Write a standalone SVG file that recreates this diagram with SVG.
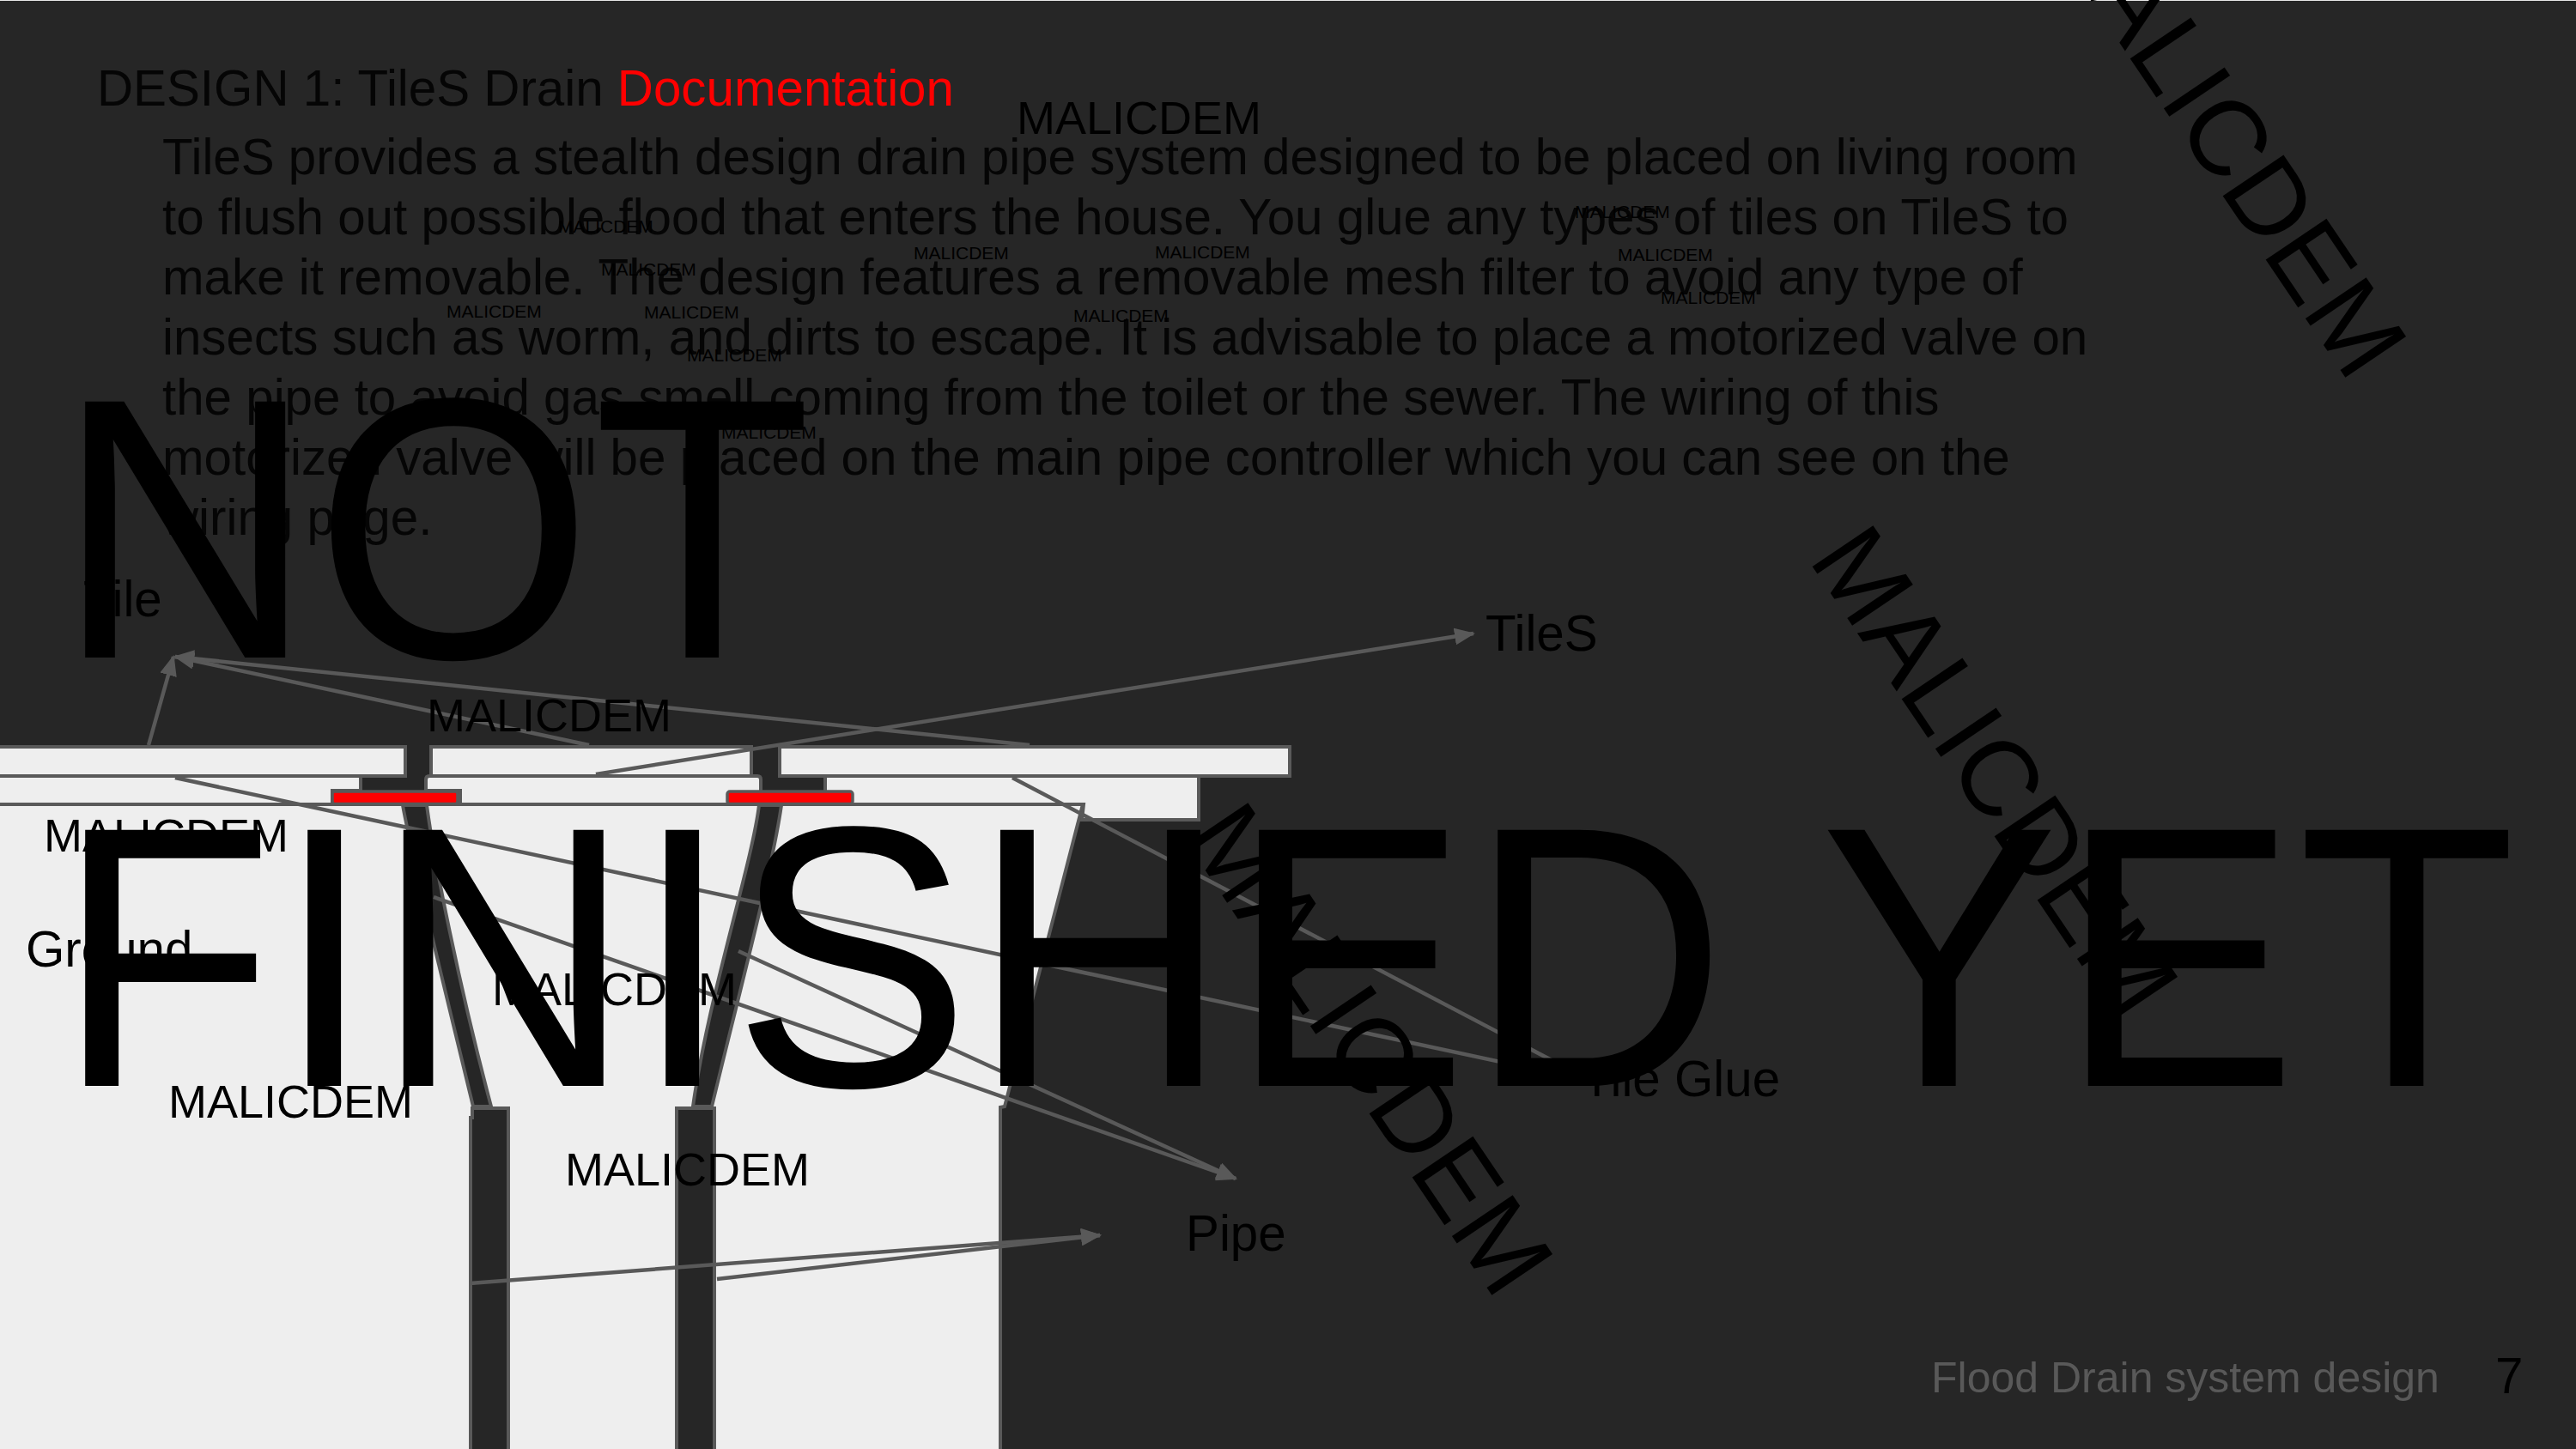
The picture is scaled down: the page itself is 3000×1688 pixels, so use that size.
<svg xmlns="http://www.w3.org/2000/svg" width="3000" height="1688" viewBox="0 0 3000 1688">
<style>
text{font-family:"Liberation Sans",Arial,sans-serif;fill:#000}
.t{font-size:58.3px}
.d{font-size:58.3px;fill:#050505}
.b{font-size:58.3px;fill:#050505}
.w{font-size:54px}
.s{font-size:21px}
.h{font-size:417px}
.r{font-size:124px}
.l{fill:#eee;stroke:#595959;stroke-width:4}
.p{fill:#262626;stroke:#595959;stroke-width:4}
.v{fill:#f00;stroke:#595959;stroke-width:3.5}
.c{fill:none;stroke:#595959;stroke-width:4.5;marker-end:url(#a)}
</style>
<defs><marker id="a" markerUnits="userSpaceOnUse" markerWidth="24" markerHeight="20" refX="22" refY="10" orient="auto"><path d="M0 0L24 10L0 20z" fill="#595959"/></marker></defs>
<rect width="3000" height="1688" fill="#262626"/>
<rect width="3000" height="1" fill="#e8e8e8"/>
<g id="ground">
<path class="l" d="M-5 937H1261L1170 1289L1165 1290V1693H-5z"/>
</g>
<g id="glue">
<path class="l" d="M-5 904H420V921H387V937H-5z"/>
<path class="l" d="M496 908Q496 904 500 904H882Q886 904 886 908V937H536V921H496z"/>
<path class="l" d="M961 904H1396V955H1260L1262 937H961z"/>
</g>
<g id="tiles">
<rect class="l" x="-5" y="870" width="477" height="34"/>
<rect class="l" x="502" y="870" width="373" height="34"/>
<rect class="l" x="908" y="870" width="594" height="34"/>
</g>
<g id="pipes">
<path class="p" d="M469 938H497C505 1000 535 1150 572 1289H551C520 1160 480 1000 469 938z"/>
<path class="p" d="M884 938H910C900 1010 860 1160 829 1289H807C825 1160 875 1010 884 938z"/>
<path class="p" d="M548 1700V1302H550V1291H592V1700z"/>
<path class="p" d="M788 1700V1291H832V1700z"/>
</g>
<g id="valves">
<rect class="v" x="387" y="922" width="146" height="14.5" rx="3"/>
<rect class="v" x="847" y="922" width="146" height="14.5" rx="3"/>
</g>
<g id="connectors">
<path class="c" d="M173 868L202 765"/>
<path class="c" d="M686 868L204 765"/>
<path class="c" d="M1199 868L204 765"/>
<path class="c" d="M694 902L1716 738"/>
<path class="c" d="M204 906L1845 1258"/>
<path class="c" d="M1179 906L1845 1255"/>
<path class="c" d="M505 1045L1439 1373"/>
<path class="c" d="M860 1108L1439 1373"/>
<path class="c" d="M547 1495L1281 1439"/>
<path class="c" d="M835 1490L1281 1439"/>
</g>
<g id="labels">
<text class="d" x="113" y="123">DESIGN 1: TileS Drain <tspan fill="#f00">Documentation</tspan></text>
<text class="b" x="189" y="203">TileS provides a stealth design drain pipe system designed to be placed on living room</text>
<text class="b" x="189" y="273">to flush out possible flood that enters the house. You glue any types of tiles on TileS to</text>
<text class="b" x="189" y="343">make it removable. The design features a removable mesh filter to avoid any type of</text>
<text class="b" x="189" y="413">insects such as worm, and dirts to escape. It is advisable to place a motorized valve on</text>
<text class="b" x="189" y="483">the pipe to avoid gas smell coming from the toilet or the sewer. The wiring of this</text>
<text class="b" x="189" y="553">motorized valve will be placed on the main pipe controller which you can see on the</text>
<text class="b" x="189" y="623">wiring page.</text>
<text class="t" x="97" y="718">Tile</text>
<text class="t" x="1730" y="758">TileS</text>
<text class="t" x="30" y="1126">Ground</text>
<text class="t" x="1842" y="1277">Tile Glue</text>
<text class="t" x="1381" y="1457">Pipe</text>
<text x="2249" y="1622" style="font-size:50px;fill:#595959">Flood Drain system design</text>
<text x="2906" y="1623" style="font-size:58.3px">7</text>
</g>
<g id="watermarks">
<text class="w" x="1184" y="156">MALICDEM</text>
<text class="w" x="497" y="852">MALICDEM</text>
<text class="w" x="51" y="992">MALICDEM</text>
<text class="w" x="573" y="1171">MALICDEM</text>
<text class="w" x="196" y="1302">MALICDEM</text>
<text class="w" x="658" y="1381">MALICDEM</text>
<text class="s" x="650" y="271">MALICDEM</text>
<text class="s" x="700" y="321">MALICDEM</text>
<text class="s" x="520" y="370">MALICDEM</text>
<text class="s" x="750" y="371">MALICDEM</text>
<text class="s" x="800" y="421">MALICDEM</text>
<text class="s" x="840" y="511">MALICDEM</text>
<text class="s" x="1064" y="302">MALICDEM</text>
<text class="s" x="1345" y="301">MALICDEM</text>
<text class="s" x="1834" y="254">MALICDEM</text>
<text class="s" x="1884" y="304">MALICDEM</text>
<text class="s" x="1934" y="354">MALICDEM</text>
<text class="s" x="1250" y="375">MALICDEM</text>
<text class="h" transform="translate(65 766) scale(1 1.04)">NOT</text>
<text class="h" transform="translate(65 1265) scale(1 1.04)">FINISHED YET</text>
<text class="r" transform="translate(2371 -94.5) rotate(56)">MALICDEM</text>
<text class="r" transform="translate(2105 651.5) rotate(56)">MALICDEM</text>
<text class="r" transform="translate(1377 974.5) rotate(56)">MALICDEM</text>
</g>
</svg>
